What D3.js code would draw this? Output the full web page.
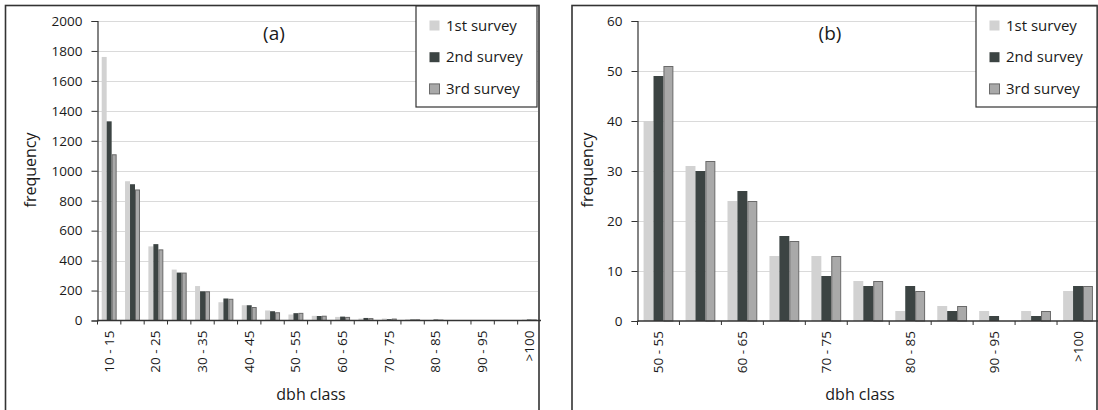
<!DOCTYPE html>
<html>
<head>
<meta charset="utf-8">
<script src="https://cdn.jsdelivr.net/npm/d3@7/dist/d3.min.js"></script>
<style>
  html, body { margin: 0; padding: 0; background: #fff; }
  svg { display: block; font-family: "Open Sans", "Noto Sans", sans-serif; }
</style>
</head>
<body>
<svg id="chart" width="1098" height="410"></svg>
<script>
const seriesNames = ["1st survey", "2nd survey", "3rd survey"];

const categoriesA = ["10 - 15","15 - 20","20 - 25","25 - 30","30 - 35","35 - 40","40 - 45","45 - 50",
  "50 - 55","55 - 60","60 - 65","65 - 70","70 - 75","75 - 80","80 - 85","85 - 90","90 - 95","95 - 100",">100"];
const survey1A = [1760, 930, 495, 340, 230, 122, 102, 67, 40, 31, 24, 13, 13, 8, 2, 3, 2, 2, 6];
const survey2A = [1330, 910, 510, 320, 195, 147, 102, 62, 49, 30, 26, 17, 9, 7, 7, 2, 1, 1, 7];
const survey3A = [1110, 875, 475, 320, 195, 145, 90, 55, 51, 32, 24, 16, 13, 8, 6, 3, 0, 2, 7];
const yTicksA = [0, 200, 400, 600, 800, 1000, 1200, 1400, 1600, 1800, 2000];

const categoriesB = ["50 - 55","55 - 60","60 - 65","65 - 70","70 - 75","75 - 80","80 - 85","85 - 90","90 - 95","95 - 100",">100"];
const survey1B = [40, 31, 24, 13, 13, 8, 2, 3, 2, 2, 6];
const survey2B = [49, 30, 26, 17, 9, 7, 7, 2, 1, 1, 7];
const survey3B = [51, 32, 24, 16, 13, 8, 6, 3, 0, 2, 7];
const yTicksB = [0, 10, 20, 30, 40, 50, 60];

const fills = ["#d2d2d2", "#3c4443", "#a9a9a9"];
const strokes = ["none", "none", "#6a6a6a"];
const textColor = "#1a1a1a";

const svg = d3.select("#chart");

function panel(cfg) {
  const g = svg.append("g");
  g.append("rect")
    .attr("x", cfg.frame[0]).attr("y", 5.5)
    .attr("width", cfg.frame[1] - cfg.frame[0]).attr("height", 420)
    .attr("fill", "#fff").attr("stroke", "#333").attr("stroke-width", 1.6);

  const x = d3.scaleBand().domain(cfg.cats).range([cfg.x0, cfg.x1]).padding(0);
  const y = d3.scaleLinear().domain([0, cfg.ymax]).range([cfg.yb, cfg.yt]);
  const gap = x.bandwidth() * (1 - cfg.frac) / 2;
  const xs = d3.scaleBand().domain([0, 1, 2]).range([gap, x.bandwidth() - gap]).padding(0);

  g.append("g").selectAll("line").data(cfg.yticks.filter(d => d > 0)).join("line")
    .attr("x1", cfg.x0).attr("x2", cfg.gridEnd)
    .attr("y1", d => Math.round(y(d)) + 0.5).attr("y2", d => Math.round(y(d)) + 0.5)
    .attr("stroke", "#b5b5b5").attr("stroke-width", 1).attr("stroke-dasharray", "1,1");

  const rows = cfg.cats.map((c, i) => ({ c, v: cfg.series.map(s => s[i]) }));
  const grp = g.append("g").selectAll("g").data(rows).join("g")
    .attr("transform", d => `translate(${x(d.c)},0)`);
  grp.selectAll("rect").data(d => d.v.map((v, k) => ({ v, k })).filter(e => e.v > 0)).join("rect")
    .attr("x", e => xs(e.k) + (e.k === 2 ? 0.5 : 0))
    .attr("width", e => xs.bandwidth() - (e.k === 2 ? 1 : 0))
    .attr("y", e => y(e.v) + (e.k === 2 ? 0.5 : 0))
    .attr("height", e => y(0) - y(e.v) - (e.k === 2 ? 0.5 : 0))
    .attr("fill", e => fills[e.k])
    .attr("stroke", e => strokes[e.k]).attr("stroke-width", 1);

  const yAxis = d3.axisLeft(y).tickValues(cfg.yticks).tickFormat(d3.format("d")).tickSize(6).tickPadding(9);
  const ya = g.append("g").attr("transform", `translate(${cfg.x0},0)`).call(yAxis);
  ya.select(".domain").attr("stroke", "#333").attr("stroke-width", 1.2);
  ya.selectAll(".tick line").attr("stroke", "#333");
  ya.selectAll(".tick text").attr("font-size", 13.5).attr("fill", textColor)
    .attr("font-family", "'Open Sans', sans-serif");

  const xa = g.append("g").attr("transform", `translate(0,${cfg.yb})`);
  xa.append("line").attr("x1", cfg.x0).attr("x2", cfg.x1).attr("stroke", "#333").attr("stroke-width", 1.4);
  xa.selectAll("line.tk").data(cfg.cats).join("line").attr("class", "tk")
    .attr("x1", d => x(d)).attr("x2", d => x(d)).attr("y1", 0).attr("y2", 4)
    .attr("stroke", "#333").attr("stroke-width", 1);
  xa.selectAll("text").data(cfg.cats.filter((d, i) => i % 2 === 0)).join("text")
    .attr("transform", d => `translate(${x(d) + x.bandwidth() / 2 + 4.5},10) rotate(-90)`)
    .attr("text-anchor", "end")
    .attr("font-size", 13.5).attr("fill", textColor)
    .text(d => d);

  g.append("text")
    .attr("transform", `translate(${cfg.ylabX},${cfg.ylabY}) rotate(-90)`)
    .attr("text-anchor", "middle").attr("font-size", 16).attr("fill", textColor)
    .text("frequency");
  g.append("text")
    .attr("x", cfg.xlabX).attr("y", 400)
    .attr("text-anchor", "middle").attr("font-size", 16).attr("fill", textColor)
    .text("dbh class");

  g.append("text").attr("x", cfg.tagX).attr("y", 40)
    .attr("text-anchor", "middle").attr("font-size", 19).attr("fill", textColor)
    .text(cfg.tag);

  const lg = g.append("g").attr("transform", `translate(${cfg.legX},6)`);
  lg.append("rect").attr("x", 0).attr("y", 0).attr("width", 121).attr("height", 101)
    .attr("fill", "#fff").attr("stroke", "#333").attr("stroke-width", 1.2);
  const items = lg.selectAll("g").data(seriesNames).join("g")
    .attr("transform", (d, i) => `translate(13,${19 + i * 31.7})`);
  items.append("rect").attr("x", 0.5).attr("y", -4.5).attr("width", 10).attr("height", 10)
    .attr("fill", (d, i) => fills[i]).attr("stroke", (d, i) => strokes[i]).attr("stroke-width", 1);
  items.append("text").attr("x", 17).attr("y", 5.5).attr("font-size", 15).attr("fill", textColor)
    .text(d => d);
}

panel({
  frame: [5.5, 539], cats: categoriesA, series: [survey1A, survey2A, survey3A],
  x0: 97.5, x1: 541, gridEnd: 538, yb: 320.5, yt: 21, ymax: 2000, yticks: yTicksA, frac: 0.64,
  ylabX: 36, ylabY: 170, xlabX: 311, tag: "(a)", tagX: 274, legX: 416
});
panel({
  frame: [572, 1097], cats: categoriesB, series: [survey1B, survey2B, survey3B],
  x0: 637.5, x1: 1099, gridEnd: 1096, yb: 321, yt: 21, ymax: 60, yticks: yTicksB, frac: 0.71,
  ylabX: 593, ylabY: 170, xlabX: 860, tag: "(b)", tagX: 830, legX: 976
});
</script>
</body>
</html>
